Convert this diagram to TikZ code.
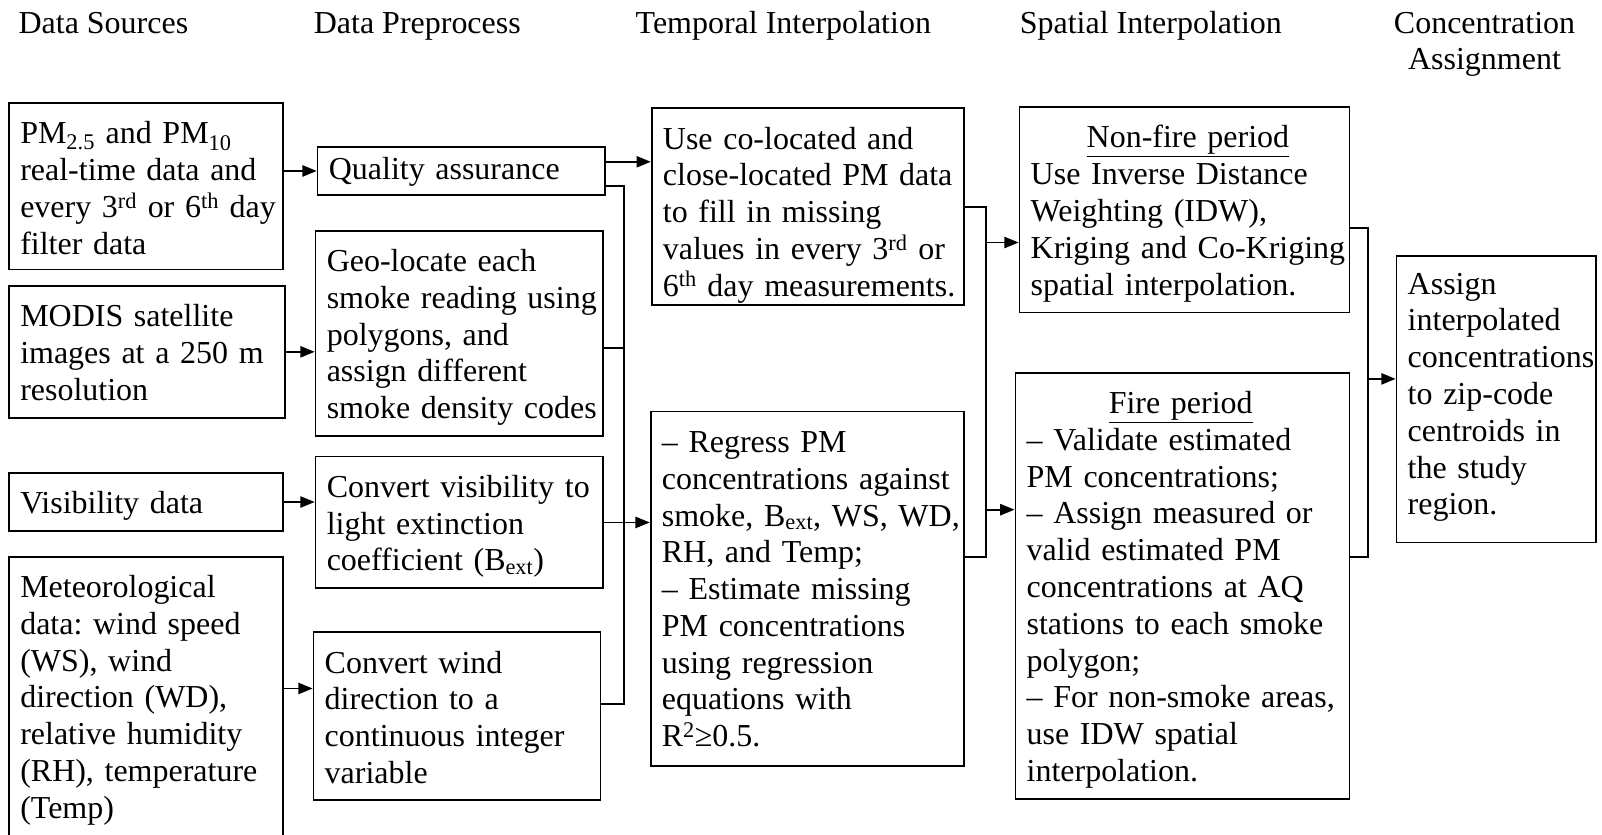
\documentclass[tikz,border=0pt]{standalone}
\usepackage{fontspec}
\setmainfont{Liberation Serif}
\usetikzlibrary{arrows.meta,calc}
\frenchspacing
\newcommand{\bfs}{\fontsize{31.3pt}{36pt}\selectfont}
\newcommand{\lines}[1]{\begin{tabular}[t]{@{}l@{}}#1\end{tabular}}
\begin{document}
\begin{tikzpicture}[x=1pt,y=-1pt,
  box/.style={draw, line width=1.7pt, anchor=north west, inner xsep=11pt, inner ysep=0pt, align=left, font=\bfs, text height=40pt},
  arr/.style={line width=1.7pt, -{Triangle[length=14pt,width=11pt]}},
  ln/.style={line width=1.7pt},
  hdr/.style={font=\bfs, anchor=base west, inner sep=0pt}]
\useasboundingbox (0,0) rectangle (1568,817);

% headers
\node[hdr] (h1) at (18,33) {Data Sources};
\node[hdr] (h2) at (307,33) {Data Preprocess};
\node[hdr] (h3) at (622,33) {Temporal Interpolation};
\node[hdr] (h4) at (998,33) {Spatial Interpolation};
\node[font=\bfs, align=center, anchor=north, inner sep=0pt] (h5) at (1453,11.5) {Concentration\\Assignment};

% column 1
\node[box, minimum width=268pt, text depth=123pt, text width=246pt] (A) at (8,100)
 {\lines{PM\textsubscript{2.5} and PM\textsubscript{10}\\ real-time data and\\ every 3\textsuperscript{rd} or 6\textsuperscript{th} day\\ filter data}};
\node[box, minimum width=270pt, text depth=89pt, text width=248pt] (B) at (8,279)
 {\lines{MODIS satellite\\ images at a 250 m\\ resolution}};
\node[box, minimum width=268pt, text depth=17pt, text width=246pt] (C) at (8,462)
 {\lines{Visibility data}};
\node[box, minimum width=268pt, text depth=246pt, text width=246pt] (D) at (8,544)
 {\lines{Meteorological\\ data: wind speed\\ (WS), wind\\ direction (WD),\\ relative humidity\\ (RH), temperature\\ (Temp)}};

% column 2
\node[box, minimum width=281pt, text height=32pt, text depth=15pt, text width=259pt] (E) at (310,143)
 {\lines{Quality assurance}};
\node[box, minimum width=281pt, text depth=161pt, text width=259pt] (F) at (308,225)
 {\lines{Geo-locate each\\ smoke reading using\\ polygons, and\\ assign different\\ smoke density codes}};
\node[box, minimum width=281pt, text depth=89pt, text width=259pt] (G) at (308,446)
 {\lines{Convert visibility to\\ light extinction\\ coefficient (B\textsubscript{ext})}};
\node[box, minimum width=281pt, text depth=124pt, text width=259pt] (H) at (306,618)
 {\lines{Convert wind\\ direction to a\\ continuous integer\\ variable}};

% column 3
\node[box, minimum width=306pt, text depth=153pt, text width=284pt] (I) at (637,105)
 {\lines{Use co-located and\\ close-located PM data\\ to fill in missing\\ values in every 3\textsuperscript{rd} or\\ 6\textsuperscript{th} day measurements.}};
\node[box, minimum width=307pt, text depth=307pt, text width=285pt] (J) at (636,402)
 {\lines{– Regress PM\\ concentrations against\\ smoke, B\textsubscript{ext}, WS, WD,\\ RH, and Temp;\\ – Estimate missing\\ PM concentrations\\ using regression\\ equations with\\ R\textsuperscript{2}≥0.5.}};

% column 4
\node[box, minimum width=323pt, text depth=161pt, text width=301pt] (K) at (997,104)
 {\lines{\multicolumn{1}{@{}c@{}}{\underline{Non-fire period}}\\ Use Inverse Distance\\ Weighting (IDW),\\ Kriging and Co-Kriging\\ spatial interpolation.}};
\node[box, minimum width=327pt, text depth=377pt, text width=305pt] (L) at (993,364)
 {\lines{\multicolumn{1}{@{}c@{}}{\underline{Fire period}}\\ – Validate estimated\\ PM concentrations;\\ – Assign measured or\\ valid estimated PM\\ concentrations at AQ\\ stations to each smoke\\ polygon;\\ – For non-smoke areas,\\ use IDW spatial\\ interpolation.}};

% column 5
\node[box, minimum width=195pt, text height=37pt, text depth=243pt, text width=173pt] (M) at (1366,250)
 {\lines{Assign\\ interpolated\\ concentrations\\ to zip-code\\ centroids in\\ the study\\ region.}};

% connectors column 1 -> 2
\draw[arr] (A.east |- E.west) -- (E.west);
\draw[arr] (B.east) -- (B.east -| F.west);
\draw[arr] (C.east) -- (C.east -| G.west);
\coordinate (hin) at ([yshift=27pt]H.west);
\draw[arr] (D.east |- hin) -- (hin);

% column 2 -> 3
\coordinate (ein) at ([yshift=9pt]E.east);
\draw[arr] (ein) -- (ein -| I.west);
\coordinate (bus1) at ([xshift=18pt,yshift=-14.5pt]E.east);
\draw[ln] ([yshift=-14.5pt]E.east) -- (bus1) |- ([yshift=12pt]H.east);
\draw[ln] ([yshift=-14.5pt]F.east) -- ([yshift=-14.5pt]F.east -| bus1);
\draw[arr] (G.east) -- (G.east -| J.west);

% column 3 -> 4
\coordinate (bus2) at ([xshift=20pt]I.east);
\draw[ln] (I.east) -- (bus2) |- ([yshift=31pt]J.east);
\coordinate (kin) at ([yshift=-32pt]K.west);
\coordinate (lin) at ([yshift=74.5pt]L.west);
\draw[arr] (bus2 |- kin) -- (kin);
\draw[arr] (bus2 |- lin) -- (lin);

% column 4 -> 5
\coordinate (bus3) at ([xshift=17pt,yshift=-18pt]K.east);
\draw[ln] ([yshift=-18pt]K.east) -- (bus3) |- ([yshift=28.5pt]L.east);
\coordinate (min) at ([yshift=20pt]M.west);
\draw[arr] (bus3 |- min) -- (min);
\end{tikzpicture}
\end{document}
